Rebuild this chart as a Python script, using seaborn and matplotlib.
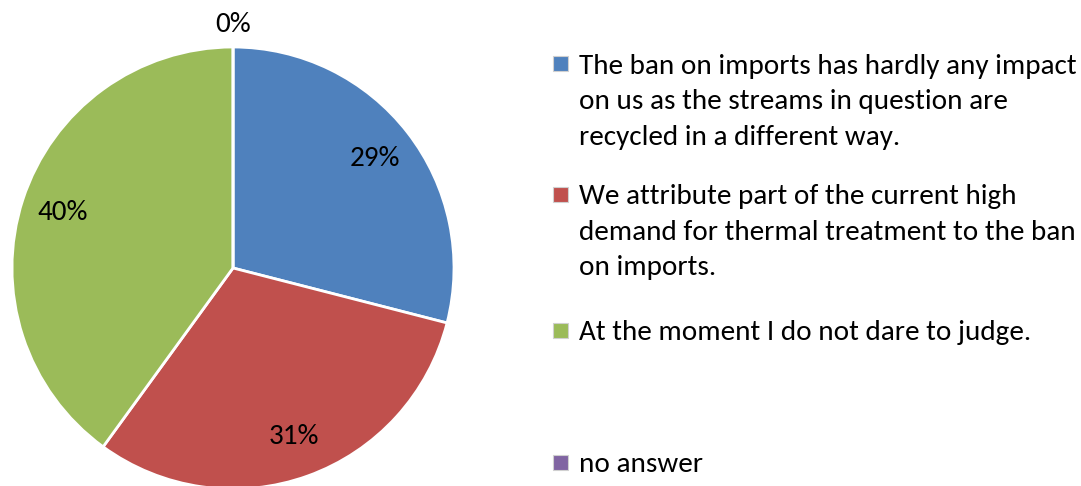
import matplotlib
matplotlib.use("Agg")
import matplotlib.pyplot as plt
from matplotlib import font_manager
from matplotlib.patches import Rectangle
import numpy as np
import seaborn as sns

# Survey answers and their shares (%)
categories = [
    "The ban on imports has hardly any impact\non us as the streams in question are\nrecycled in a different way.",
    "We attribute part of the current high\ndemand for thermal treatment to the ban\non imports.",
    "At the moment I do not dare to judge.",
    "no answer",
]
shares = [29, 31, 40, 0]
pct_labels = ["29%", "31%", "40%", "0%"]
colors = ["#4F81BD", "#C0504D", "#9BBB59", "#8064A2"]

sns.set_theme(style="white")

available = {f.name for f in font_manager.fontManager.ttflist}
family = next((f for f in ["Carlito", "Lato", "DejaVu Sans"] if f in available),
              "DejaVu Sans")
plt.rcParams["font.family"] = [family, "DejaVu Sans"]

W, H = 1081, 486
fig = plt.figure(figsize=(W / 100, H / 100), dpi=100)
fig.patch.set_facecolor("white")

# Pie axes: centre (233, 268) px, radius 221 px
cx, cy, r = 233, 268, 221
ax = fig.add_axes([(cx - r) / W, (H - cy - r) / H, 2 * r / W, 2 * r / H])
wedges, _ = ax.pie(
    shares, colors=colors, startangle=90, counterclock=False,
    wedgeprops=dict(edgecolor="white", linewidth=2),
)
ax.set_xlim(-1, 1)
ax.set_ylim(-1, 1)
ax.set_aspect("equal")
ax.axis("off")
for w in wedges:
    w.set_clip_on(False)

fs = 21
for w, lab, val in zip(wedges, pct_labels, shares):
    ang = np.deg2rad((w.theta1 + w.theta2) / 2)
    dist = 0.81 if val > 0 else 1.10
    ax.text(dist * np.cos(ang), dist * np.sin(ang), lab, ha="center", va="center",
            fontsize=fs, color="black", clip_on=False)

# Legend drawn as evenly spaced slots on the right
slot_tops = [64, 194, 330, 462]
line_h = 35.5
for lab, col, y in zip(categories, colors, slot_tops):
    fig.patches.append(Rectangle((553 / W, (H - y - 7.5) / H), 15 / W, 15 / H,
                                 transform=fig.transFigure, facecolor=col,
                                 edgecolor="#d0d0d0", linewidth=0.8))
    for i, line in enumerate(lab.split("\n")):
        fig.text(579 / W, (H - y - i * line_h) / H, line, ha="left",
                 va="center_baseline", fontsize=fs, color="black",
                 transform=fig.transFigure)

fig.savefig("out.png", dpi=100, facecolor="white")
